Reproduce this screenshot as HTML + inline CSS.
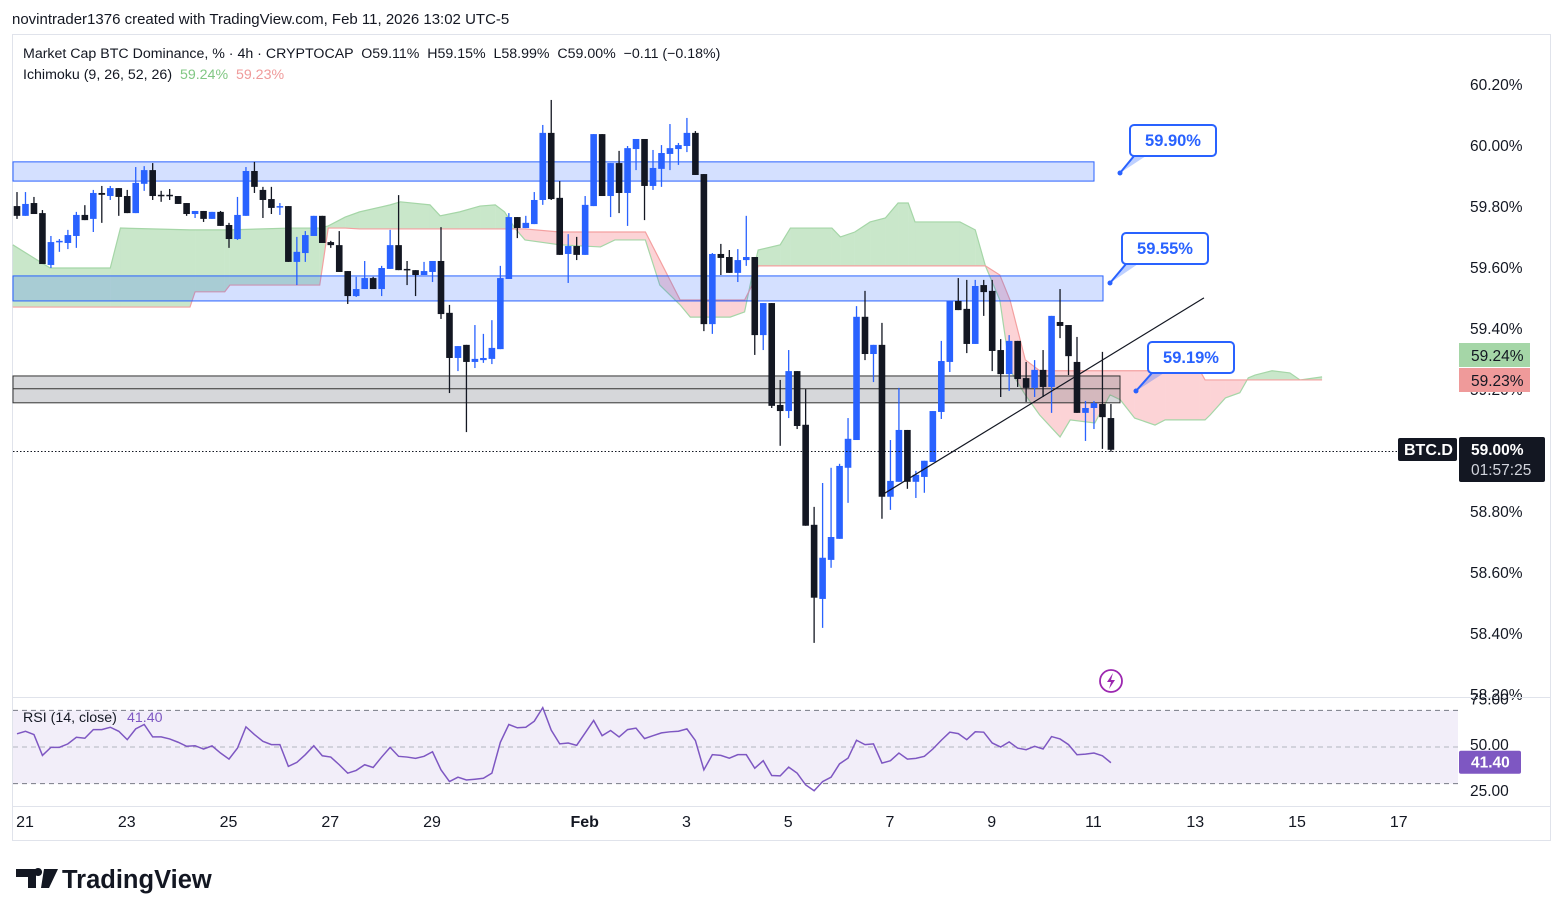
<!DOCTYPE html>
<html><head><meta charset="utf-8"><style>
html,body{margin:0;padding:0;background:#fff;width:1563px;height:916px;overflow:hidden;font-family:"Liberation Sans",sans-serif;}
svg{position:absolute;left:0;top:0}
.pre{white-space:pre}
</style></head><body>
<svg id="chart" width="1563" height="916" xmlns="http://www.w3.org/2000/svg" font-family="Liberation Sans, sans-serif">
<text x="12" y="24" font-size="15" fill="#131722">novintrader1376 created with TradingView.com, Feb 11, 2026 13:02 UTC-5</text>
<rect x="12.5" y="34.5" width="1538" height="806" fill="none" stroke="#e0e3eb"/>
<g id="cloud"></g>
<g id="boxes"></g>
<g id="candles"></g>
<g id="overlay"></g>
<g id="axis"></g>
<g id="rsi"></g>
<g id="taxis"></g>
<text class="pre" x="23" y="58" font-size="14.2" fill="#131722">Market Cap BTC Dominance, % · 4h · CRYPTOCAP  O59.11%  H59.15%  L58.99%  C59.00%  −0.11 (−0.18%)</text>
<text class="pre" x="23" y="79" font-size="14.2" fill="#131722">Ichimoku (9, 26, 52, 26)  <tspan fill="#81c784">59.24%</tspan>  <tspan fill="#ef9a9a">59.23%</tspan></text>
<g>
<path d="M16,869 h20 v19 h-8 v-11 h-12 z M38,876 a4,4 0 1 1 0.1,0 z M44,869 h14 l-9,19 h-8 z" fill="#131722"/>
<text x="62" y="888" font-size="25.5" font-weight="bold" fill="#131722">TradingView</text>
</g>
</svg>
<script>
// ---------- DATA ----------
const opens = [59.803,59.771,59.813,59.780,59.610,59.685,59.682,59.705,59.774,59.761,59.846,59.836,59.862,59.836,59.780,59.876,59.921,59.840,59.840,59.836,59.813,59.777,59.787,59.761,59.784,59.741,59.695,59.771,59.918,59.856,59.826,59.800,59.803,59.620,59.649,59.705,59.771,59.685,59.675,59.590,59.508,59.531,59.567,59.531,59.597,59.675,59.597,59.593,59.577,59.587,59.623,59.453,59.305,59.348,59.292,59.298,59.302,59.334,59.564,59.767,59.731,59.744,59.823,60.043,59.830,59.646,59.672,59.643,59.803,60.039,59.836,59.944,59.846,59.990,60.023,59.869,59.925,59.974,59.990,60.000,60.043,59.908,59.416,59.646,59.636,59.584,59.626,59.636,59.380,59.485,59.151,59.131,59.262,59.086,58.758,58.515,58.643,58.712,58.945,59.036,59.440,59.318,59.348,58.850,58.899,59.069,58.899,58.915,58.964,59.128,59.292,59.492,59.466,59.351,59.544,59.525,59.331,59.252,59.361,59.239,59.207,59.266,59.210,59.423,59.413,59.292,59.125,59.141,59.154,59.108];
const highs = [59.849,59.849,59.833,59.790,59.705,59.695,59.725,59.784,59.806,59.856,59.869,59.869,59.862,59.856,59.931,59.934,59.944,59.853,59.859,59.836,59.813,59.787,59.787,59.784,59.787,59.748,59.833,59.931,59.948,59.866,59.866,59.813,59.803,59.702,59.721,59.771,59.771,59.689,59.721,59.590,59.571,59.623,59.571,59.607,59.725,59.839,59.623,59.593,59.620,59.623,59.734,59.479,59.344,59.348,59.413,59.384,59.429,59.607,59.780,59.767,59.771,59.849,60.069,60.151,59.885,59.711,59.702,59.836,60.039,60.039,59.944,59.984,60.000,60.023,60.023,59.987,60.003,60.072,60.010,60.092,60.049,59.908,59.649,59.679,59.659,59.662,59.771,59.636,59.485,59.485,59.233,59.331,59.262,59.203,58.817,58.895,58.945,58.958,59.108,59.475,59.525,59.348,59.420,59.036,59.207,59.069,58.935,58.968,59.131,59.361,59.492,59.567,59.561,59.561,59.561,59.561,59.367,59.380,59.361,59.292,59.298,59.331,59.443,59.531,59.413,59.374,59.164,59.164,59.325,59.154];
const lows = [59.761,59.771,59.777,59.613,59.600,59.653,59.662,59.666,59.757,59.718,59.748,59.823,59.771,59.780,59.780,59.853,59.823,59.817,59.823,59.810,59.771,59.764,59.751,59.761,59.738,59.666,59.692,59.771,59.846,59.764,59.777,59.774,59.620,59.544,59.620,59.705,59.682,59.666,59.587,59.482,59.505,59.531,59.531,59.508,59.597,59.593,59.544,59.508,59.577,59.554,59.433,59.190,59.262,59.062,59.272,59.289,59.285,59.334,59.564,59.698,59.731,59.744,59.807,59.823,59.643,59.551,59.626,59.643,59.803,59.836,59.767,59.780,59.738,59.921,59.757,59.856,59.866,59.921,59.938,59.980,59.905,59.393,59.384,59.577,59.584,59.554,59.607,59.315,59.331,59.141,59.017,59.108,59.072,58.755,58.371,58.420,58.617,58.712,58.830,59.036,59.298,59.226,58.778,58.807,58.899,58.876,58.846,58.863,58.964,59.105,59.259,59.462,59.321,59.351,59.443,59.262,59.177,59.197,59.210,59.161,59.177,59.177,59.125,59.370,59.249,59.125,59.033,59.072,59.007,58.997];
const closes = [59.771,59.810,59.777,59.613,59.685,59.689,59.708,59.774,59.757,59.846,59.840,59.862,59.833,59.780,59.879,59.921,59.836,59.836,59.836,59.810,59.777,59.787,59.761,59.784,59.738,59.695,59.774,59.918,59.866,59.823,59.797,59.803,59.620,59.653,59.708,59.771,59.682,59.675,59.587,59.508,59.531,59.567,59.531,59.600,59.675,59.593,59.593,59.577,59.590,59.623,59.449,59.305,59.344,59.292,59.302,59.305,59.338,59.567,59.767,59.731,59.748,59.823,60.043,59.826,59.643,59.672,59.643,59.807,60.039,59.836,59.944,59.846,59.993,60.023,59.869,59.928,59.977,59.993,60.003,60.043,59.905,59.416,59.646,59.633,59.584,59.626,59.636,59.380,59.485,59.148,59.131,59.262,59.082,58.755,58.519,58.650,58.718,58.951,59.040,59.440,59.318,59.348,58.850,58.902,59.069,58.899,58.922,58.968,59.131,59.295,59.492,59.462,59.351,59.541,59.521,59.328,59.252,59.361,59.236,59.207,59.266,59.210,59.443,59.410,59.311,59.125,59.141,59.157,59.111,59.004];
const rsiValues = [57.2,58.6,56.8,45.4,49.8,49.8,51.7,55.3,54.8,59.5,59.5,60.8,58.6,54.0,59.9,62.3,55.5,55.5,54.4,52.6,50.4,50.7,48.9,50.6,46.7,43.4,49.4,61.0,56.8,53.1,51.3,51.3,39.4,41.6,45.8,50.7,45.2,44.5,40.3,35.7,37.2,40.3,38.8,44.5,49.8,44.9,44.5,43.8,44.9,47.4,37.5,31.1,33.5,32.0,32.4,32.9,35.7,52.6,62.3,60.5,60.8,64.1,71.5,59.2,51.7,52.2,50.9,57.7,64.5,56.2,59.0,55.5,59.5,60.3,54.6,56.2,57.7,58.3,58.6,59.9,53.5,37.5,45.8,45.4,43.9,45.8,45.8,38.4,42.5,34.4,34.2,39.0,35.7,29.3,26.1,31.1,33.5,40.8,43.9,53.7,51.3,51.7,41.2,42.5,46.7,43.4,43.8,44.9,48.9,53.7,58.1,57.3,54.0,58.3,58.1,52.2,50.0,52.8,49.4,48.5,50.4,48.9,55.7,54.4,51.3,45.8,46.1,46.7,45.2,41.4];
const cloudIdx = [0.5,4.9,12.0,13.2,21.4,22.0,25.5,26.1,33.2,36.7,37.7,39.7,41.4,45.0,46.2,49.7,50.9,53.2,55.6,57.4,58.5,59.7,60.9,65.0,69.8,71.5,75.1,76.8,79.2,80.4,85.1,86.8,87.7,88.4,91.0,92.2,97.1,98.1,99.8,101.6,103.4,104.9,106.1,106.9,112.2,114.0,115.2,116.9,118.1,119.9,121.6,124.0,125.2,128.1,129.9,131.1,132.8,135.2,136.4,140.5,141.1,141.7,143.5,145.2,146.2,147.0,149.0,151.1,152.3,154.9];
const spanA = [59.676,59.600,59.600,59.731,59.725,59.725,59.725,59.725,59.731,59.731,59.738,59.767,59.784,59.807,59.817,59.807,59.771,59.784,59.803,59.807,59.784,59.731,59.692,59.676,59.669,59.692,59.692,59.544,59.479,59.439,59.439,59.456,59.577,59.659,59.676,59.731,59.731,59.702,59.718,59.751,59.764,59.813,59.813,59.751,59.751,59.725,59.607,59.495,59.266,59.184,59.118,59.046,59.102,59.092,59.184,59.168,59.108,59.085,59.102,59.102,59.102,59.118,59.174,59.191,59.240,59.249,59.263,59.256,59.233,59.243];
const spanB = [59.472,59.472,59.472,59.472,59.472,59.522,59.522,59.544,59.544,59.544,59.731,59.731,59.728,59.728,59.728,59.728,59.728,59.728,59.728,59.728,59.728,59.728,59.728,59.718,59.718,59.718,59.718,59.626,59.495,59.495,59.495,59.495,59.544,59.607,59.607,59.607,59.607,59.607,59.607,59.607,59.607,59.607,59.607,59.607,59.607,59.607,59.607,59.577,59.495,59.299,59.263,59.263,59.263,59.263,59.263,59.263,59.263,59.263,59.263,59.263,59.233,59.233,59.233,59.233,59.233,59.233,59.233,59.233,59.233,59.233];
const priceTicks = [60.2,60.0,59.8,59.6,59.4,59.2,58.8,58.6,58.4,58.2];
const rsiTicks = [75,50,25];
const dateLabels = ["21","23","25","27","29","Feb","3","5","7","9","11","13","15","17"];
const dateIdx = [1,13,25,37,49,67,79,91,103,115,127,139,151,163];
const zones = [[59.948,59.885,1094],[59.574,59.492,1103]];
const grayZone = [59.246,59.158,59.204,1120];
const callouts = [["59.90%",59.90],["59.55%",59.55],["59.19%",59.19]];
const lastPrice = 59.00;

// ---------- SCALES ----------
const NS="http://www.w3.org/2000/svg";
const X = i => 17 + (i-1)*8.48;
const Y = p => 146 + (60 - p)*305;
const RY = r => 747 - (r-50)*1.83;
function mk(tag, attrs, parent){const e=document.createElementNS(NS,tag);for(const k in attrs)e.setAttribute(k,attrs[k]);parent.appendChild(e);return e;}

const cloud=document.getElementById('cloud');
for(let k=0;k<cloudIdx.length-1;k++){
  const x1=X(cloudIdx[k]),x2=X(cloudIdx[k+1]);
  const a1=spanA[k],a2=spanA[k+1],b1=spanB[k],b2=spanB[k+1];
  const d1=a1-b1,d2=a2-b2;
  const draw=(xa,ya1,yb1,xb,ya2,yb2,green)=>{
    const poly=mk('polygon',{points:`${xa},${ya1} ${xb},${ya2} ${xb},${yb2} ${xa},${yb1}`,fill:green?'rgba(76,175,80,0.3)':'rgba(242,54,69,0.22)',stroke:'none'},cloud);
    
    
  };
  if(d1*d2<0){const t=d1/(d1-d2);const xm=x1+(x2-x1)*t;const pm=a1+(a2-a1)*t;
    draw(x1,Y(a1),Y(b1),xm,Y(pm),Y(pm),d1>0);draw(xm,Y(pm),Y(pm),x2,Y(a2),Y(b2),d2>0);}
  else draw(x1,Y(a1),Y(b1),x2,Y(a2),Y(b2),(d1+d2)>=0);
}
const la=mk('polyline',{points:cloudIdx.map((c,k)=>X(c)+','+Y(spanA[k])).join(' '),fill:'none',stroke:'#a5d6a7','stroke-width':1.2},cloud);


const lb=mk('polyline',{points:cloudIdx.map((c,k)=>X(c)+','+Y(spanB[k])).join(' '),fill:'none',stroke:'#f4a0a0','stroke-width':1.2},cloud);



const boxes=document.getElementById('boxes');
zones.forEach(z=>{const r=mk('rect',{x:13,y:Y(z[0]),width:z[2]-13,height:Y(z[1])-Y(z[0]),fill:'rgba(41,98,255,0.2)',stroke:'#2962ff','stroke-width':1},boxes);
  
  });
const g=mk('rect',{x:13,y:Y(grayZone[0]),width:grayZone[3]-13,height:Y(grayZone[1])-Y(grayZone[0]),fill:'rgba(120,123,134,0.3)',stroke:'#333','stroke-width':1},boxes);


const gm=mk('line',{x1:13,x2:grayZone[3],y1:Y(grayZone[2]),y2:Y(grayZone[2]),stroke:'#333','stroke-width':1},boxes);



const cg=document.getElementById('candles');
for(let i=0;i<opens.length;i++){
  const x=X(i+1),o=opens[i],c=closes[i],up=c>=o,col=up?'#2962ff':'#131722';
  const w=mk('line',{x1:x,x2:x,y1:Y(highs[i]),y2:Y(lows[i]),stroke:col,'stroke-width':1.3},cg);
  
  
  const top=Y(Math.max(o,c)),h=Math.max(1.5,Math.abs(Y(o)-Y(c)));
  const b=mk('rect',{x:x-3.3,y:top,width:6.6,height:h,fill:col},cg);
  
  
}

const ov=document.getElementById('overlay');
const tl=mk('line',{x1:X(103.0),y1:Y(58.856),x2:X(140.97),y2:Y(59.502),stroke:'#131722','stroke-width':1.2},ov);


const pl=mk('line',{x1:13,x2:1398,y1:Y(lastPrice)+0.5,y2:Y(lastPrice)+0.5,stroke:'#131722','stroke-width':1,'stroke-dasharray':'1.5 2'},ov);


const cpos=[[1130,125,1120,173],[1122,233,1110,283],[1148,342,1136,391]];
callouts.forEach((c,k)=>{const [bx,by,px,py]=cpos[k];
  const l=mk('path',{d:`M${px},${py} L${bx+4},${by+31} L${bx+16},${by+31}`,stroke:'#2962ff','stroke-width':2,fill:'rgba(41,98,255,0.3)'},ov);
  
  
  mk('circle',{cx:px,cy:py,r:2.5,fill:'#2962ff'},ov);
  const r=mk('rect',{x:bx,y:by,width:86,height:31,rx:4,fill:'#fff',stroke:'#2962ff','stroke-width':2},ov);
  
  
  const t=mk('text',{x:bx+43,y:by+21,'text-anchor':'middle','font-size':16.5,'font-weight':'bold',fill:'#2962ff'},ov);t.textContent=c[0];
  
  
});
const li=mk('circle',{cx:1111,cy:681,r:11,fill:'#fff',stroke:'#9c27b0','stroke-width':1.8},ov);


mk('path',{d:'M1113,673 L1107,682 L1111,682 L1109,689 L1115,680 L1111,680 Z',fill:'#9c27b0'},ov);

const ax=document.getElementById('axis');
priceTicks.forEach(p=>{const t=mk('text',{x:1470,y:Y(p)+5,'font-size':15.5,fill:'#131722'},ax);t.textContent=p.toFixed(2)+'%';
  
  });
const gl=mk('rect',{x:1459,y:343,width:71,height:24,fill:'#a5d6a7'},ax);


const glt=mk('text',{x:1471,y:361,'font-size':15.5,fill:'#131722'},ax);glt.textContent='59.24%';
const rl=mk('rect',{x:1459,y:368,width:71,height:24,fill:'#ef9a9a'},ax);


const rlt=mk('text',{x:1471,y:386,'font-size':15.5,fill:'#131722'},ax);rlt.textContent='59.23%';
const sl=mk('rect',{x:1398,y:438,width:59,height:23,rx:2,fill:'#131722'},ax);


const slt=mk('text',{x:1404,y:455,'font-size':16,'font-weight':'bold',fill:'#fff'},ax);slt.textContent='BTC.D';
const lp=mk('rect',{x:1459,y:437,width:86,height:45,rx:2,fill:'#131722'},ax);


const lpt=mk('text',{x:1471,y:455,'font-size':15.5,'font-weight':'bold',fill:'#fff'},ax);lpt.textContent=lastPrice.toFixed(2)+'%';
const cdt=mk('text',{x:1471,y:475,'font-size':15.5,fill:'#d1d4dc'},ax);cdt.textContent='01:57:25';



const rs=document.getElementById('rsi');
mk('line',{x1:13,x2:1550,y1:697.5,y2:697.5,stroke:'#e0e3eb'},rs);
const band=mk('rect',{x:13,y:RY(70),width:1445,height:RY(30)-RY(70),fill:'rgba(126,87,194,0.1)'},rs);


[70,50,30].forEach(v=>{const l=mk('line',{x1:13,x2:1458,y1:RY(v),y2:RY(v),stroke:v===50?'#b2b5be':'#787b86','stroke-width':1,'stroke-dasharray':'5 4'},rs);
  
  });
const rp=mk('polyline',{points:rsiValues.map((v,i)=>Math.max(13,X(i+1))+','+RY(v)).join(' '),fill:'none',stroke:'#7e57c2','stroke-width':1.5},rs);


rsiTicks.forEach(v=>{const t=mk('text',{x:1470,y:RY(v)+3,'font-size':15.5,fill:'#131722'},rs);t.textContent=v.toFixed(2);
  
  });
const rvl=mk('rect',{x:1459,y:RY(rsiValues[rsiValues.length-1])-12,width:62,height:23,rx:2,fill:'#7e57c2'},rs);


const rvt=mk('text',{x:1471,y:RY(rsiValues[rsiValues.length-1])+5,'font-size':15.5,'font-weight':'bold',fill:'#fff'},rs);rvt.textContent=rsiValues[rsiValues.length-1].toFixed(2);
const rt=mk('text',{x:23,y:722,'font-size':14.2,fill:'#131722'},rs);rt.textContent='RSI (14, close)';


const rtv=mk('text',{x:127,y:722,'font-size':14.2,fill:'#7e57c2'},rs);rtv.textContent=rsiValues[rsiValues.length-1].toFixed(2);

const ta=document.getElementById('taxis');
mk('line',{x1:13,x2:1550,y1:806.5,y2:806.5,stroke:'#e0e3eb'},ta);
dateLabels.forEach((d,k)=>{const t=mk('text',{x:X(dateIdx[k])+8,y:827,'text-anchor':'middle','font-size':16,fill:'#131722','font-weight':d==='Feb'?'bold':'normal'},ta);t.textContent=d;
  
  });
</script>
</body></html>
